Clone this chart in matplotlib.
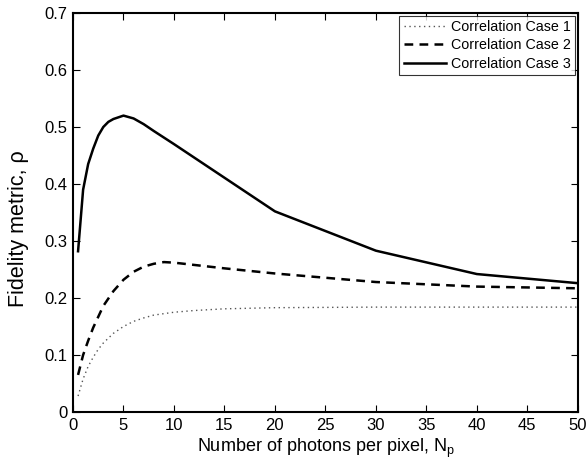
import matplotlib
matplotlib.use("Agg")
import matplotlib.pyplot as plt

plt.rcParams['font.family'] = ['Liberation Sans', 'DejaVu Sans']
plt.rcParams['mathtext.fontset'] = 'custom'
plt.rcParams['mathtext.rm'] = 'Liberation Sans'

# Case 1 (dotted)
x1 = [0.5, 1, 1.5, 2, 2.5, 3, 4, 5, 6, 7, 8, 10, 12, 15, 20, 30, 40, 50]
y1 = [0.028, 0.058, 0.080, 0.096, 0.110, 0.121, 0.138, 0.150, 0.159, 0.165, 0.170, 0.175, 0.178, 0.181, 0.183, 0.184, 0.184, 0.184]

# Case 2 (dashed)
x2 = [0.5, 1, 1.5, 2, 3, 4, 5, 6, 7, 8, 9, 10, 15, 20, 30, 40, 50]
y2 = [0.065, 0.100, 0.125, 0.148, 0.186, 0.212, 0.232, 0.246, 0.255, 0.260, 0.263, 0.262, 0.252, 0.243, 0.228, 0.220, 0.217]

# Case 3 (solid)
x3 = [0.5, 1, 1.5, 2, 2.5, 3, 3.5, 4, 5, 6, 7, 8, 10, 20, 30, 40, 50]
y3 = [0.282, 0.390, 0.435, 0.462, 0.485, 0.500, 0.509, 0.514, 0.520, 0.515, 0.505, 0.493, 0.470, 0.352, 0.283, 0.242, 0.226]

labels = ['Correlation Case 1', 'Correlation Case 2', 'Correlation Case 3']

fig = plt.figure(figsize=(5.86, 4.68), dpi=100)
ax = fig.add_axes([0.1246, 0.1197, 0.8614, 0.8525])

ax.plot(x1, y1, color='#555555', linestyle=(0, (1, 2.5)), linewidth=1.0, label=labels[0])
ax.plot(x2, y2, color='black', linestyle=(0, (3.5, 2.5)), linewidth=1.8, label=labels[1])
ax.plot(x3, y3, color='black', linestyle='-', linewidth=1.8, label=labels[2])

ax.set_xlim(0, 50)
ax.set_ylim(0, 0.7)
ax.set_xticks(range(0, 51, 5))
ax.set_yticks([0, 0.1, 0.2, 0.3, 0.4, 0.5, 0.6, 0.7])
ax.set_yticklabels(['0', '0.1', '0.2', '0.3', '0.4', '0.5', '0.6', '0.7'])
ax.tick_params(direction='in', top=True, right=True, labelsize=12, length=5, width=0.8, pad=4)
for s in ax.spines.values():
    s.set_linewidth(1.5)

ax.set_xlabel('Number of photons per pixel, N$_{\\mathregular{p}}$', fontsize=13, labelpad=3)
ax.set_ylabel('Fidelity metric, \u03c1', fontsize=15.5)
ax.yaxis.set_label_coords(-0.088, 0.46)

leg = ax.legend(loc='upper right', fontsize=10.3, frameon=True, fancybox=False,
                borderaxespad=0.2, handlelength=3.0, handletextpad=0.3,
                borderpad=0.3, labelspacing=0.3)
leg.get_frame().set_edgecolor('black')
leg.get_frame().set_linewidth(0.8)

fig.savefig('out.png', dpi=100)
